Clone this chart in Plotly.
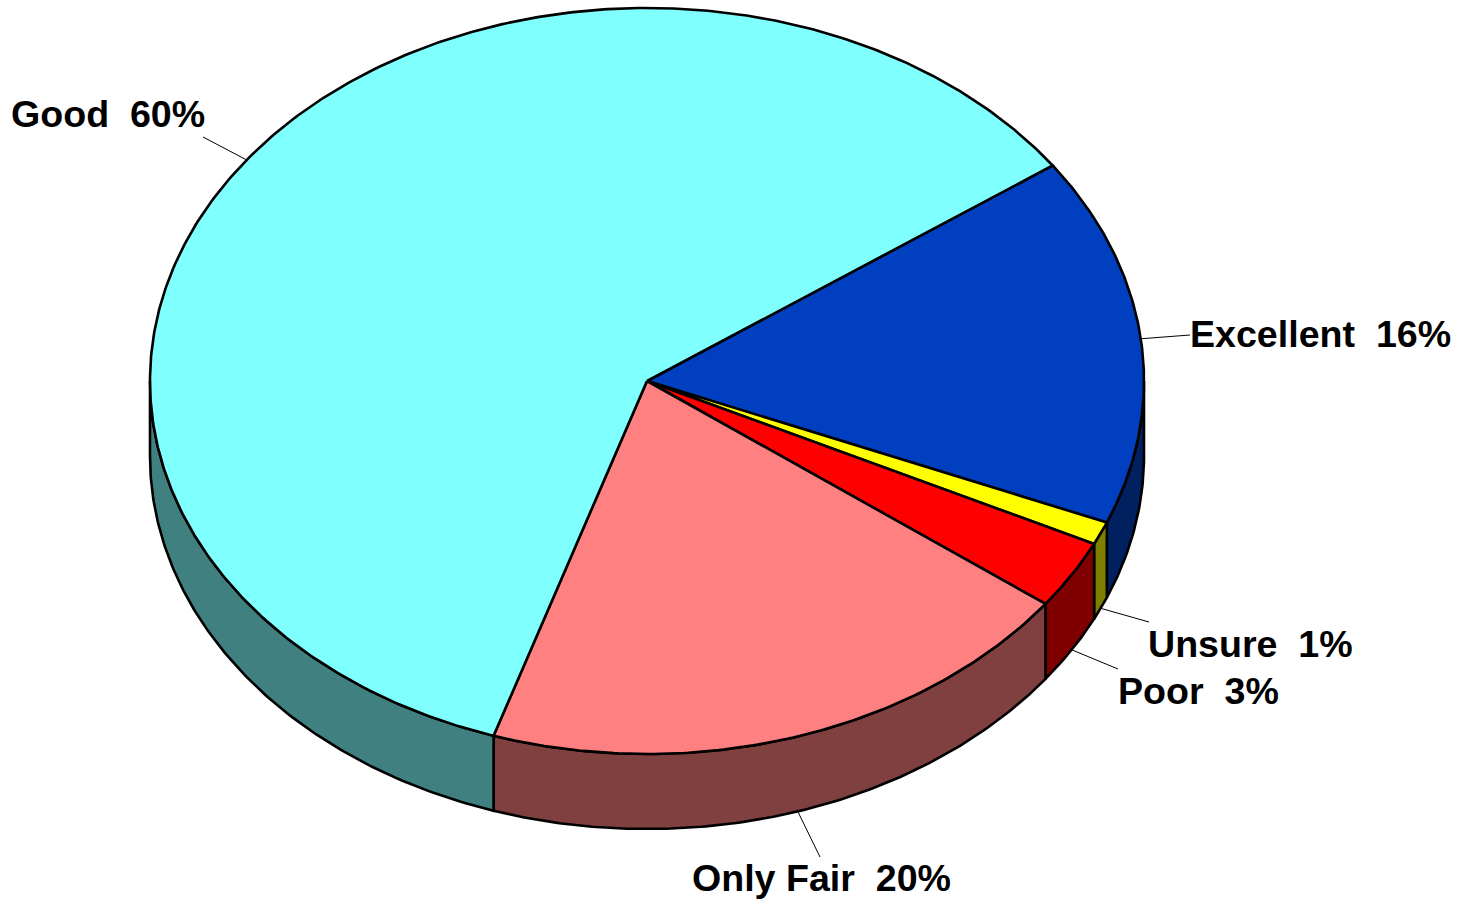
import numpy as np
import plotly.graph_objects as go

categories = ["Excellent", "Unsure", "Poor", "Only Fair", "Good"]
shares = [16.0, 1.0, 3.0, 19.8, 60.2]
percent_labels = [16, 1, 3, 20, 60]
top_colors = ["#0040C0", "#FFFF00", "#FF0000", "#FF8080", "#80FFFF"]
side_colors = ["#002060", "#808000", "#800000", "#804040", "#408080"]
label_x = [1190, 1148, 1118, 692, 11]
label_y = [334, 644, 691, 878, 114]
leader_x = [1190, 1149, 1118, 820, 203]
leader_y = [335, 622, 669, 857, 137]

CX, CY, RX, RY, DEPTH = 647.0, 381.0, 497.0, 373.0, 75.0
START = 35.3
LINE = 2.6
FONT = dict(family="Liberation Sans, Arial, sans-serif", size=37.6, color="#000000")


def px(t):
    return CX + RX * np.cos(np.radians(t))


def py(t, d=0.0):
    return CY - RY * np.sin(np.radians(t)) + d


fig = go.Figure()
angles = START - np.cumsum([0] + shares) * 3.6
spans = [(angles[i], angles[i + 1]) for i in range(len(shares))]

# side walls: only the part of each slice facing the viewer (sin t < 0)
for (a, b), col in zip(spans, side_colors):
    for lo, hi in [(-180, 0), (-540, -360)]:
        s, e = min(a, hi), max(b, lo)
        if s <= e:
            continue
        t = np.linspace(s, e, max(int((s - e) * 2), 2))
        xs = np.concatenate([px(t), px(t[::-1]), px(t[:1])])
        ys = np.concatenate([py(t), py(t[::-1], DEPTH), py(t[:1])])
        fig.add_trace(go.Scatter(x=xs, y=ys, mode="lines", fill="toself", fillcolor=col,
                                 line=dict(color="#000000", width=LINE), hoverinfo="skip"))

# top faces
for (a, b), col in zip(spans, top_colors):
    t = np.linspace(a, b, max(int((a - b) * 2), 2))
    xs = np.concatenate([[CX], px(t), [CX]])
    ys = np.concatenate([[CY], py(t), [CY]])
    fig.add_trace(go.Scatter(x=xs, y=ys, mode="lines", fill="toself", fillcolor=col,
                             line=dict(color="#000000", width=LINE), hoverinfo="skip"))

# leader lines and labels
for i, (name, v) in enumerate(zip(categories, percent_labels)):
    mid = (spans[i][0] + spans[i][1]) / 2
    depth = DEPTH if np.sin(np.radians(mid)) < 0 else 0
    fig.add_trace(go.Scatter(x=[leader_x[i], px(mid)], y=[leader_y[i], py(mid, depth)],
                             mode="lines", line=dict(color="#000000", width=1), hoverinfo="skip"))
    fig.add_annotation(x=label_x[i], y=label_y[i], xref="x", yref="y", text=f"<b>{name}\u00a0\u00a0{v}%</b>",
                       showarrow=False, xanchor="left", yanchor="middle", font=FONT,
                       borderpad=0, borderwidth=0)

fig.update_layout(width=1471, height=899, margin=dict(l=0, r=0, t=0, b=0), showlegend=False,
                  paper_bgcolor="#FFFFFF", plot_bgcolor="#FFFFFF",
                  xaxis=dict(range=[0, 1471], visible=False, fixedrange=True),
                  yaxis=dict(range=[899, 0], visible=False, fixedrange=True))
fig.write_html("out.html", config={"displayModeBar": False},
               post_script="document.body.style.margin='0';document.documentElement.style.overflow='hidden';")
